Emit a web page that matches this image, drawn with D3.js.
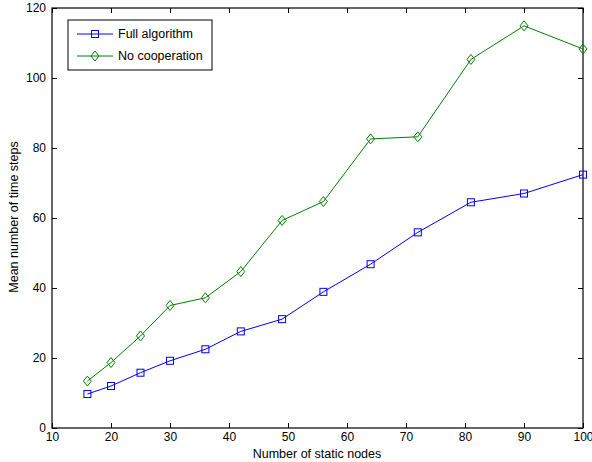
<!DOCTYPE html>
<html>
<head>
<meta charset="utf-8">
<script src="https://cdn.jsdelivr.net/npm/d3@7"></script>
<style>
  body { margin: 0; background: #fff; }
  text { font-family: "Liberation Sans", Arial, sans-serif; }
</style>
</head>
<body>
<div id="container"></div>
<script>
// data
const nodes = [16, 20, 25, 30, 36, 42, 49, 56, 64, 72, 81, 90, 100];
const fullAlgorithm = [9.7, 12.0, 15.8, 19.2, 22.5, 27.6, 31.1, 38.9, 46.8, 55.9, 64.5, 67.0, 72.4];
const noCooperation = [13.4, 18.7, 26.3, 35.0, 37.2, 44.7, 59.3, 64.7, 82.6, 83.2, 105.3, 114.9, 108.3];
const xTicks = [10, 20, 30, 40, 50, 60, 70, 80, 90, 100];
const yTicks = [0, 20, 40, 60, 80, 100, 120];

const W = 592, H = 462;
const margin = {top: 8, right: 9, bottom: 34, left: 52};
const width = W - margin.left - margin.right;
const height = H - margin.top - margin.bottom;

const svg = d3.select("#container")
  .append("svg")
  .attr("width", W)
  .attr("height", H);

const g = svg.append("g")
  .attr("transform", "translate(" + margin.left + "," + margin.top + ")");

const xScale = d3.scaleLinear().domain([10, 100]).range([0, width]);
const yScale = d3.scaleLinear().domain([0, 120]).range([height, 0]);

// axes (ticks inside, matlab style)
const tick = 5;
g.append("g")
  .attr("transform", "translate(0," + height + ")")
  .call(d3.axisBottom(xScale).tickValues(xTicks).tickSizeInner(-tick).tickSizeOuter(0).tickPadding(4))
  .call(a => a.select(".domain").remove());
g.append("g")
  .call(d3.axisTop(xScale).tickValues(xTicks).tickSizeInner(-tick).tickSizeOuter(0).tickFormat(""))
  .call(a => a.select(".domain").remove());
g.append("g")
  .call(d3.axisLeft(yScale).tickValues(yTicks).tickSizeInner(-tick).tickSizeOuter(0).tickPadding(6))
  .call(a => a.select(".domain").remove());
g.append("g")
  .attr("transform", "translate(" + width + ",0)")
  .call(d3.axisRight(yScale).tickValues(yTicks).tickSizeInner(-tick).tickSizeOuter(0).tickFormat(""))
  .call(a => a.select(".domain").remove());

g.selectAll(".tick text")
  .style("font-size", "12px")
  .attr("fill", "#000");
g.selectAll(".tick line").attr("stroke", "#000");

g.append("rect")
  .attr("width", width)
  .attr("height", height)
  .attr("fill", "none")
  .attr("stroke", "#000")
  .attr("stroke-width", 1.2);

const series = [
  {name: "Full algorithm", values: fullAlgorithm, color: "#0000ff", marker: "square"},
  {name: "No cooperation", values: noCooperation, color: "#008000", marker: "diamond"}
];

const line = d3.line()
  .x(d => xScale(d[0]))
  .y(d => yScale(d[1]));

function drawMarker(sel, type, color) {
  if (type === "square") {
    sel.append("rect")
      .attr("x", -3.5).attr("y", -3.5)
      .attr("width", 7).attr("height", 7)
      .attr("fill", "none").attr("stroke", color).attr("stroke-width", 1);
  } else {
    sel.append("path")
      .attr("d", "M0,-5L4,0L0,5L-4,0Z")
      .attr("fill", "none").attr("stroke", color).attr("stroke-width", 1);
  }
}

series.forEach(s => {
  const pts = nodes.map((n, i) => [n, s.values[i]]);
  g.append("path")
    .datum(pts)
    .attr("d", line)
    .attr("fill", "none")
    .attr("stroke", s.color)
    .attr("stroke-width", 1);
  g.selectAll(null)
    .data(pts)
    .enter()
    .append("g")
    .attr("transform", d => "translate(" + xScale(d[0]) + "," + yScale(d[1]) + ")")
    .each(function() { drawMarker(d3.select(this), s.marker, s.color); });
});

// legend
const legend = g.append("g").attr("transform", "translate(16,12)");
legend.append("rect")
  .attr("width", 144)
  .attr("height", 50)
  .attr("fill", "#fff")
  .attr("stroke", "#000")
  .attr("stroke-width", 1);
series.forEach((s, i) => {
  const row = legend.append("g").attr("transform", "translate(0," + (14 + i * 22) + ")");
  row.append("line")
    .attr("x1", 9).attr("x2", 45)
    .attr("stroke", s.color).attr("stroke-width", 1);
  const m = row.append("g").attr("transform", "translate(27,0)");
  drawMarker(m, s.marker, s.color);
  row.append("text")
    .attr("x", 50)
    .attr("dy", "0.35em")
    .style("font-size", "12.5px")
    .text(s.name);
});

// axis titles
svg.append("text")
  .attr("x", 317)
  .attr("y", H - 4)
  .attr("text-anchor", "middle")
  .style("font-size", "12.5px")
  .text("Number of static nodes");
svg.append("text")
  .attr("transform", "translate(18,217) rotate(-90)")
  .attr("text-anchor", "middle")
  .style("font-size", "12.5px")
  .text("Mean number of time steps");
</script>
</body>
</html>
